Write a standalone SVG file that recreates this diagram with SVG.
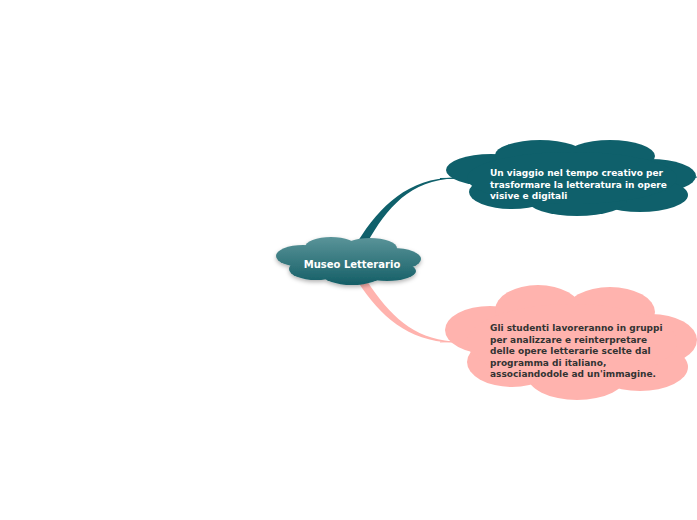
<svg xmlns="http://www.w3.org/2000/svg" width="697" height="520" viewBox="0 0 697 520">
<defs>
<linearGradient id="gc" gradientUnits="userSpaceOnUse" x1="0" y1="237" x2="0" y2="286">
<stop offset="0" stop-color="#5a9499"/>
<stop offset="1" stop-color="#135d65"/>
</linearGradient>
<filter id="sh" x="-20%" y="-30%" width="140%" height="170%">
<feDropShadow dx="0" dy="2" stdDeviation="2" flood-color="#000" flood-opacity="0.3"/>
</filter>
<style>
.t{font-family:"DejaVu Sans",Verdana,sans-serif;font-weight:bold}
.c{font-size:10px;fill:#fff}
.n1{font-size:9px;fill:#fff}
.n2{font-size:9px;fill:#333}
</style>
</defs>
<rect width="697" height="520" fill="#fff"/>
<g id="connectors">
<path d="M358 241 C380 206,408 178,455 177.4 L455 178.6 C410 180,387 208,367 243 Z" fill="#0f606b"/>
<path d="M440 178.5 L470 178" stroke="#0f606b" stroke-width="1" fill="none"/>
<path d="M688 179 L697 177" stroke="#0f606b" stroke-width="1" fill="none"/>
<path d="M358 282 C380 316,408 341,452 342.6 L452 341.4 C413 338,390 316,367 281 Z" fill="#ffb3ae"/>
<path d="M440 342 L470 341" stroke="#ffb3ae" stroke-width="1" fill="none"/>
<path d="M690 341 L697 339" stroke="#ffb3ae" stroke-width="1" fill="none"/>
</g>
<g id="central">
<g fill="url(#gc)" filter="url(#sh)">
<ellipse cx="303" cy="256" rx="27" ry="11"/>
<ellipse cx="331" cy="247" rx="26" ry="10"/>
<ellipse cx="370" cy="248" rx="27" ry="10"/>
<ellipse cx="393" cy="259" rx="28" ry="11"/>
<ellipse cx="387" cy="271" rx="29" ry="10"/>
<ellipse cx="352" cy="274" rx="30" ry="11"/>
<ellipse cx="316" cy="269" rx="27" ry="11"/>
<ellipse cx="350" cy="261" rx="60" ry="16"/>
</g>
<text class="t c" x="352" y="268" text-anchor="middle">Museo Letterario</text>
</g>
<g id="node1">
<g fill="#0f606b">
<ellipse cx="491" cy="170" rx="45" ry="16"/>
<ellipse cx="540" cy="155" rx="45" ry="15"/>
<ellipse cx="610" cy="156" rx="45" ry="16"/>
<ellipse cx="650" cy="176" rx="46" ry="17"/>
<ellipse cx="640" cy="195" rx="48" ry="17"/>
<ellipse cx="577" cy="200" rx="50" ry="16"/>
<ellipse cx="512" cy="192" rx="43" ry="17"/>
<ellipse cx="572" cy="178" rx="105" ry="26"/>
</g>
<text class="t n1"><tspan x="490" y="176">Un viaggio nel tempo creativo per</tspan><tspan x="490" y="187.5">trasformare la letteratura in opere</tspan><tspan x="490" y="199">visive e digitali</tspan></text>
</g>
<g id="node2">
<g fill="#ffb3ae">
<ellipse cx="490" cy="330" rx="45" ry="24"/>
<ellipse cx="538" cy="310" rx="43" ry="25"/>
<ellipse cx="610" cy="312" rx="45" ry="25"/>
<ellipse cx="651" cy="340" rx="46" ry="26"/>
<ellipse cx="640" cy="367" rx="48" ry="24"/>
<ellipse cx="577" cy="375" rx="50" ry="25"/>
<ellipse cx="512" cy="362" rx="45" ry="25"/>
<ellipse cx="572" cy="342" rx="105" ry="38"/>
</g>
<text class="t n2"><tspan x="490" y="331">Gli studenti lavoreranno in gruppi</tspan><tspan x="490" y="342.5">per analizzare e reinterpretare</tspan><tspan x="490" y="354">delle opere letterarie scelte dal</tspan><tspan x="490" y="365.5">programma di italiano,</tspan><tspan x="490" y="377">associandodole ad un'immagine.</tspan></text>
</g>
</svg>
